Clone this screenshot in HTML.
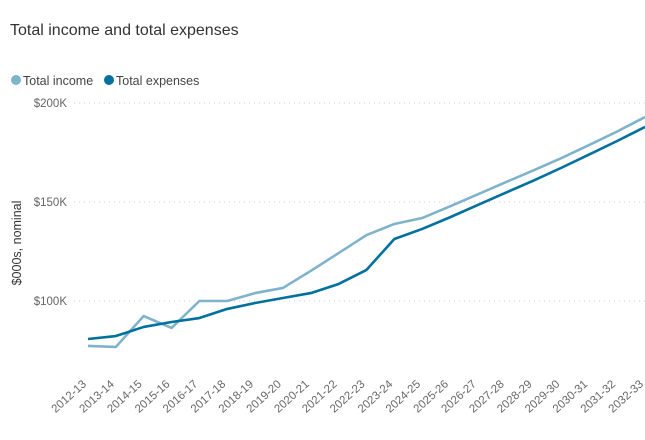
<!DOCTYPE html>
<html><head><meta charset="utf-8"><style>
body{margin:0;background:#fff;font-family:"Liberation Sans",sans-serif;}
</style></head><body>
<svg width="645" height="435" xmlns="http://www.w3.org/2000/svg">
<text x="10" y="35" font-size="16" fill="#333">Total income and total expenses</text>
<g>
<circle cx="16" cy="80" r="5" fill="#7fb3cc"/>
<text x="23" y="85" font-size="12.5" fill="#444">Total income</text>
<circle cx="109" cy="80" r="5" fill="#00709f"/>
<text x="116" y="85" font-size="12.5" fill="#444">Total expenses</text>
</g>
<text transform="translate(21,243) rotate(-90)" text-anchor="middle" font-size="12.5" fill="#333">$000s, nominal</text>
<g id="grid"></g><g id="xl"></g><g id="lines"></g>
</svg>
<script>
const categories=["2012-13","2013-14","2014-15","2015-16","2016-17","2017-18","2018-19","2019-20","2020-21","2021-22","2022-23","2023-24","2024-25","2025-26","2026-27","2027-28","2028-29","2029-30","2030-31","2031-32","2032-33"];
const income=[77.3,76.8,92.4,86.4,100,100,104,106.6,115.2,124.2,133.3,138.9,141.9,147.8,153.9,160,166,172.2,178.8,185.6,192.9];
const expenses=[80.8,82.3,86.9,89.4,91.4,96,99,101.5,104,108.6,115.7,131.3,136.4,142.3,148.5,154.7,160.8,167.3,174,180.8,187.9];
const yTicks=[100,150,200];
const yTickLabels=["$100K","$150K","$200K"];
const NS="http://www.w3.org/2000/svg";
const x=i=>88+i*27.85;
const y=v=>301-(v-100)*99/50;
function mk(t,a,p){const e=document.createElementNS(NS,t);for(const k in a)e.setAttribute(k,a[k]);p.appendChild(e);return e;}
const grid=document.getElementById('grid');
yTicks.forEach((t,i)=>{
 const l=mk('line',{x1:74,x2:645,y1:y(t),y2:y(t),stroke:'#ccc','stroke-dasharray':'1 4'},grid);
 
 
 const tx=mk('text',{x:67,y:y(t)+4,'text-anchor':'end','font-size':11.5,fill:'#666'},grid);
 tx.textContent=yTickLabels[i];
 
 
});
const xl=document.getElementById('xl');
categories.forEach((c,i)=>{
 const tx=mk('text',{transform:`translate(${x(i)-1},${385}) rotate(-42)`,'text-anchor':'end','font-size':11.5,fill:'#666'},xl);
 tx.textContent=c;
 
 
});
const lines=document.getElementById('lines');
[[income,'#7fb3cc','income-line'],[expenses,'#00709f','expenses-line']].forEach(([d,col,n])=>{
 const p=mk('polyline',{points:d.map((v,i)=>x(i)+','+y(v)).join(' '),fill:'none',stroke:col,'stroke-width':2.6,'stroke-linejoin':'round'},lines);
 
 
});
</script>
</body></html>
